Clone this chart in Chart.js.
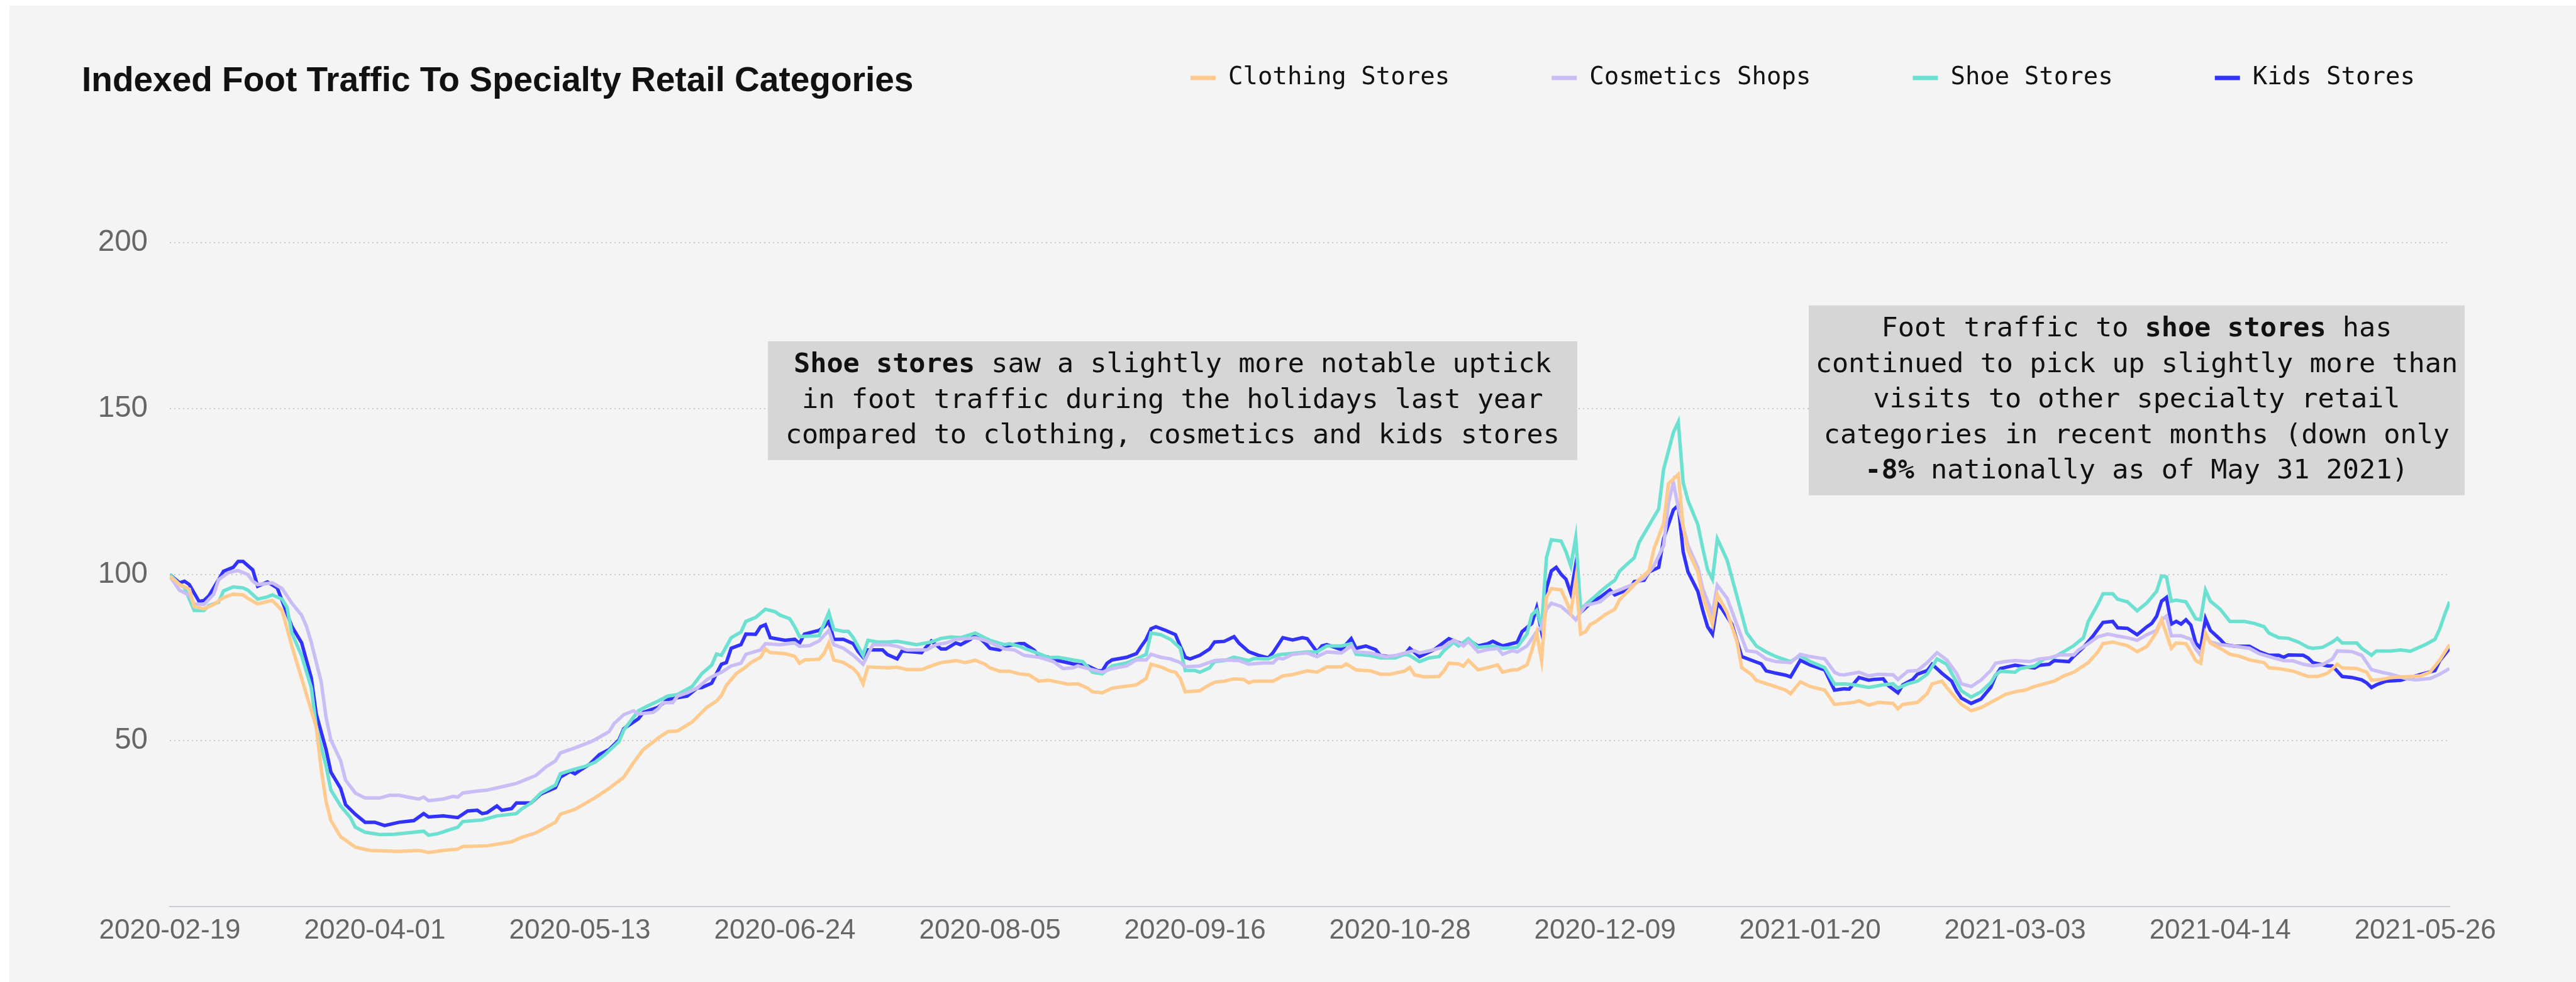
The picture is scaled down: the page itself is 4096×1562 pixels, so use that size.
<!DOCTYPE html>
<html>
<head>
<meta charset="utf-8">
<title>Indexed Foot Traffic To Specialty Retail Categories</title>
<script src="https://cdn.jsdelivr.net/npm/chart.js@4.4.1/dist/chart.umd.min.js"></script>
<style>
  html, body { margin: 0; padding: 0; background: #ffffff; }
  #wrap { position: absolute; left: 15px; top: 9px; width: 4081px; height: 1553px; }
</style>
</head>
<body>
<div id="wrap"><canvas id="traffic-chart"></canvas></div>
<script>
// Foot traffic index (2020-02-19 = 100), stored as [days since start, index]
const startDate = '2020-02-19';
const lastDay = 467; // 2021-05-31

const chartTitle = 'Indexed Foot Traffic To Specialty Retail Categories';
const seriesNames = ['Clothing Stores', 'Cosmetics Shops', 'Shoe Stores', 'Kids Stores'];
const tickLabels = ['2020-02-19', '2020-04-01', '2020-05-13', '2020-06-24', '2020-08-05', '2020-09-16',
  '2020-10-28', '2020-12-09', '2021-01-20', '2021-03-03', '2021-04-14', '2021-05-26'];

const clothingStores = [
  [0,99.5],[2,97],[4,95.6],[5,90.4],[7,89.7],[9,91],[11,93.1],[13,94.1],[15,93.9],[16,92.8],[18,91.2],[20,91.9],
  [21,92.2],[23,89.2],[25,78.5],[26,73.6],[28,63.9],[30,54.1],[31,41.5],[32,31.7],[33,25.9],[35,21],[38,17.9],
  [41,16.9],[47,16.6],[51,16.9],[53,16.3],[56,16.9],[59,17.3],[60,18.1],[65,18.3],[70,19.5],[72,20.8],[75,22.2],
  [79,25.4],[80,27.8],[83,29.3],[87,32.7],[90,35.6],[93,39],[95,43.4],[97,47.3],[100,50.7],[102,52.7],[104,52.9],
  [107,55.6],[110,60],[112,61.9],[113,63.6],[114,66.6],[116,70.1],[118,72.2],[119,73.5],[121,75.1],[122,77.6],
  [123,76.5],[126,76.2],[128,75.4],[129,73.3],[130,74.3],[133,74.5],[134,76.2],[135,79.4],[136,74.3],[138,73.5],
  [140,71.7],[141,70.1],[142,67.1],[143,72.2],[147,71.9],[149,72.1],[151,71.4],[154,71.4],[156,72.5],[158,73.5],
  [161,74.1],[163,73.5],[165,74.2],[167,73],[168,71.9],[170,70.9],[172,70.9],[174,70.1],[176,69.8],[178,67.9],
  [180,68.2],[182,67.6],[184,67],[186,67.1],[188,65.8],[189,64.7],[191,64.4],[193,65.8],[194,66],[197,66.6],
  [198,66.8],[200,68.7],[201,73],[203,72.2],[205,70.9],[206,70.6],[207,68.7],[208,64.7],[211,65],[212,66],
  [214,67.6],[216,67.9],[218,68.6],[220,68.4],[221,67.4],[222,67.9],[226,67.9],[228,69.5],[230,69.9],[233,71],
  [235,70.6],[237,72.2],[240,72.2],[241,73.1],[243,71.3],[246,71],[248,70],[250,70],[253,71],[254,72],[255,69.8],
  [257,69.2],[260,69.3],[261,71],[262,73.3],[264,73.1],[265,72.4],[266,74.2],[268,71.3],[270,72],[272,72.8],
  [273,70.6],[275,71.3],[276,71.3],[278,72.8],[279,77.1],[280,82.5],[281,74.2],[282,93.2],[283,95.8],[285,95.4],
  [286,92.2],[287,88.6],[288,98.6],[289,82.1],[290,82.8],[291,85],[292,85.7],[294,87.9],[296,89.6],[297,92.5],
  [299,95.4],[301,98.6],[303,101.1],[304,107.6],[306,115.5],[307,127.4],[309,130.2],[310,114.4],[311,107.2],
  [313,100.8],[314,93.6],[316,85],[317,94],[319,88.6],[321,80],[322,72],[324,69.9],[325,68.1],[328,66.7],
  [331,65.2],[332,64.1],[334,67.7],[336,66.3],[339,65.2],[341,60.9],[343,61.2],[345,61.5],[346,62],[348,60.7],
  [350,61.5],[353,61.2],[354,59.6],[355,60.9],[358,61.5],[360,64.2],[361,67.1],[363,67.9],[364,66],[366,62.5],
  [367,60.9],[369,59],[371,59.9],[374,62.3],[376,63.9],[378,64.7],[380,65.2],[382,66.3],[384,67.1],[386,67.9],
  [388,69.5],[390,70.6],[393,73.5],[395,76.8],[396,79.2],[398,79.7],[401,78.6],[403,76.8],[405,78.4],[406,80.5],
  [407,82.7],[408,86.4],[410,77.8],[411,79.4],[413,79.2],[414,76.8],[415,74.1],[416,73.3],[417,82.4],[418,79.4],
  [420,77.8],[422,76],[424,75.4],[426,74.3],[429,73.5],[430,71.9],[432,71.7],[435,70.9],[438,69.3],[440,69.3],
  [442,70.3],[444,73],[445,71.9],[448,71.7],[450,70.6],[451,68.2],[453,68.4],[455,69],[459,69.3],[461,69.5],
  [463,70.6],[465,74.3],[467,78.9]
];

const cosmeticsShops = [
  [0,99.5],[2,95.3],[4,93.8],[5,91.2],[7,91],[9,94.1],[10,98.5],[12,100.6],[14,101.2],[16,100],[17,98],[18,97],
  [21,97.5],[23,95.8],[25,91.4],[27,87.8],[28,84.4],[29,79.5],[30,73.6],[31,67.8],[32,57.1],[33,50.2],[35,43.9],
  [36,38.1],[38,34.2],[40,32.7],[43,32.7],[45,33.5],[47,33.5],[49,32.9],[51,32.4],[52,33],[53,31.9],[56,32.4],
  [58,33.2],[59,33],[60,34.2],[63,34.8],[65,35.1],[69,36.4],[71,37.1],[75,39.5],[77,42],[79,43.9],[80,46.3],
  [83,47.8],[86,49.5],[87,50.2],[90,52.7],[91,55.1],[93,57.8],[95,59],[96,58],[99,58.5],[100,59.5],[101,61.4],
  [103,61.4],[104,63.4],[106,64.4],[108,65.8],[110,68.3],[111,69.2],[113,70.6],[115,72.5],[117,73.3],[118,76],
  [121,77.3],[122,79.2],[125,78.9],[128,79.4],[129,78.4],[131,78.6],[133,80],[135,83.2],[136,78.9],[138,77.8],
  [140,75.7],[142,73],[144,78.9],[147,78.9],[149,78.4],[151,77.3],[155,77.3],[157,78.9],[159,79.4],[161,80.5],
  [164,80.8],[165,81],[167,80.2],[169,78.9],[171,77.6],[173,77.3],[175,75.7],[178,75.1],[181,73.8],[183,71.7],
  [185,71.9],[186,72.5],[188,71.7],[191,70.6],[193,71.7],[196,72.5],[198,74.3],[200,74.3],[201,76],[203,75.1],
  [205,74.6],[207,73.5],[208,72.2],[211,72.5],[214,74.1],[216,74.3],[219,74.1],[221,73],[224,73.4],[226,73.4],
  [227,74.9],[228,74.6],[230,76],[233,76.4],[235,75.3],[237,76.7],[240,76.4],[242,78.5],[243,76.7],[246,76.4],
  [249,75.3],[251,75.6],[253,76.4],[255,77.1],[256,76.4],[259,77.4],[261,78.2],[263,80.3],[265,78.5],[266,79.9],
  [268,76.7],[270,77.4],[272,77.8],[273,76],[275,77.1],[276,76.7],[278,78.5],[280,82.8],[281,84.3],[282,89.6],
  [283,91.4],[285,90.4],[287,87.9],[288,86.4],[289,88.6],[290,90.7],[293,91.8],[295,94.3],[297,95.4],[300,97.2],
  [302,99],[304,102.6],[306,108.7],[307,121.6],[308,127.7],[309,120.2],[311,108.7],[313,102.2],[314,95.8],
  [316,88.2],[317,96.8],[319,92.9],[321,85],[323,77.1],[325,76.7],[327,74.6],[329,73.8],[332,73.5],[334,76],
  [336,75.3],[339,74.6],[341,70.6],[342,69.9],[343,69.8],[346,70.6],[348,69.5],[350,70],[353,69.8],[354,68.4],
  [356,70.9],[358,71.1],[360,73.5],[362,76.5],[364,74.3],[366,70.3],[367,67.1],[369,66.3],[371,68.2],[373,71.1],
  [374,73.3],[376,73.8],[378,74.1],[381,73.8],[383,74.6],[385,74.9],[387,75.8],[390,75.8],[391,77.3],[393,79.2],
  [395,81.3],[397,82.1],[399,81.5],[401,81],[403,80.2],[405,81.9],[407,83.2],[408,86.4],[409,87.5],[410,81.6],
  [412,81.6],[414,80.5],[415,77.6],[416,75.7],[417,81.6],[418,79.7],[420,78.9],[423,78.4],[426,77.8],[428,76.2],
  [431,74.9],[433,74.1],[435,74],[437,73],[439,72.5],[441,72.9],[443,74.6],[444,77],[447,76.8],[449,75.7],
  [451,71.4],[453,70.6],[455,70],[458,68.7],[460,68.3],[463,68.7],[465,70],[467,71.7]
];

const shoeStores = [
  [0,100],[2,97],[3,96.1],[5,89.2],[7,89.2],[8,90.7],[10,91.7],[11,95.1],[13,96.3],[15,96],[16,95.3],[18,92.6],
  [20,93.3],[21,93.9],[23,92.6],[24,90.2],[25,82.4],[27,75.6],[29,65.8],[30,54.1],[32,42.4],[33,35.1],[35,30.3],
  [37,26.8],[38,23.9],[40,22.4],[43,21.7],[46,21.8],[50,22.4],[52,22.7],[53,21.5],[55,22],[57,23],[59,23.9],
  [60,25.6],[64,26.1],[67,27.3],[71,28],[72,29.3],[74,31.2],[76,34.2],[79,36.6],[80,40],[82,41],[85,42.2],
  [87,43.4],[89,45.6],[92,49.7],[93,53.2],[96,59],[98,60.5],[100,61.9],[102,63.4],[104,63.9],[107,66.3],
  [109,70.2],[111,72.7],[112,76.1],[113,75.7],[115,81],[117,82.7],[118,85.9],[120,87.1],[122,89.6],[124,88.8],
  [125,87.8],[127,86.7],[128,84.3],[129,81.3],[131,81.5],[133,81.6],[135,88.6],[136,83.5],[138,82.9],[139,82.9],
  [140,81],[142,75.7],[143,80.2],[145,79.7],[147,79.7],[149,79.9],[151,79.4],[153,78.9],[156,79.7],[158,80.8],
  [160,81.2],[162,81],[165,82.4],[168,80.2],[171,78.9],[172,79.2],[174,78.4],[175,77.8],[178,76.2],[180,75],
  [182,75.1],[185,74.3],[187,73.8],[189,70.6],[191,70.1],[193,72.5],[196,73.4],[198,74.6],[200,76],[201,82.4],
  [203,81.9],[205,80.5],[207,77.8],[208,71.1],[210,71.1],[211,70.6],[213,71.9],[214,73.8],[216,74.1],[218,75.1],
  [221,74.1],[222,74.7],[225,74.6],[227,75.8],[228,76],[233,76.7],[235,76.7],[237,78.5],[240,78.5],[242,79.2],
  [243,76],[246,75.6],[248,74.9],[251,74.9],[253,76],[254,75.6],[256,73.8],[258,74.9],[260,75.3],[261,77.1],
  [263,79.6],[264,78.5],[266,80.7],[268,78.1],[271,78.5],[273,77.8],[276,78.1],[278,82.1],[279,87.9],[280,89.3],
  [281,84.3],[282,105.1],[283,110.5],[285,110.1],[286,106.9],[287,102.6],[288,111.2],[289,89.6],[291,92.2],
  [294,96.1],[296,98.3],[297,101.1],[300,105.1],[301,109.8],[303,114.8],[305,119.8],[306,131.7],[308,142.8],
  [309,146],[310,127.7],[311,122.3],[313,115.1],[314,108],[315,101.5],[316,98.6],[317,110.8],[319,104.4],
  [321,93.6],[323,82.5],[325,78.5],[327,76.7],[329,75.3],[332,73.8],[334,75.6],[336,73.8],[339,72],[341,67],
  [343,67.1],[345,66.8],[348,66],[351,66.8],[353,67.1],[354,65.8],[356,67.1],[358,67.9],[360,70],[362,74.6],
  [364,73],[365,70.3],[367,65],[369,63.1],[371,64.7],[373,67.4],[374,69.8],[375,70.9],[378,70.6],[379,71.7],
  [382,72.5],[384,74.6],[386,75.1],[388,76.8],[390,78.6],[392,81],[393,85.9],[395,91.2],[396,94.2],[398,94.2],
  [399,92.6],[401,91.8],[403,89.1],[405,91.5],[407,95],[408,99.6],[409,99.3],[410,92],[411,92.3],[413,91.8],
  [415,86.7],[416,86.4],[417,95.3],[418,92],[420,89.6],[422,85.9],[425,85.9],[427,85.3],[429,84.3],[430,82.4],
  [432,81],[434,80.8],[436,79.7],[438,78.1],[439,77.8],[441,78.1],[443,79.7],[444,80.8],[445,79.4],[448,79.4],
  [449,77.8],[451,75.7],[452,77],[455,77],[457,77.3],[459,76.9],[460,77.6],[462,78.9],[464,80.5],[465,83.7],
  [466,88],[467,91.8]
];

const kidsStores = [
  [0,100],[2,97.5],[3,98],[4,97],[6,91.9],[7,92.2],[8,93.6],[10,98.5],[11,101],[13,102.2],[14,104],[15,104],
  [17,101.4],[18,96.5],[20,97.8],[22,96],[23,92.2],[25,84.4],[27,79.5],[29,68.8],[30,58],[32,47.3],[33,40.5],
  [35,35.6],[36,30.7],[38,27.8],[40,25.4],[42,25.4],[44,24.4],[47,25.4],[50,25.9],[52,28],[53,27],[56,27.3],
  [59,26.8],[61,28.8],[63,29],[64,28],[65,28.3],[67,30.3],[68,29],[70,29.5],[71,31.2],[74,31.2],[76,33.9],
  [79,35.8],[80,39],[82,40.7],[83,40],[84,41],[86,42.9],[88,45.8],[90,47.3],[92,50.2],[93,53.6],[96,56.6],
  [97,58.5],[100,60],[102,62.4],[106,63.4],[108,65.8],[109,66],[111,67.3],[112,70.2],[113,73],[114,73.5],
  [115,77.8],[117,78.9],[118,82.1],[120,82],[121,84.3],[122,84.9],[123,81],[126,80.2],[128,80.5],[129,79.3],
  [130,82.1],[133,83.2],[134,84.3],[135,85.9],[136,80.5],[138,80.5],[140,79.2],[141,76.8],[142,75.1],[143,77.3],
  [146,77.3],[147,75.9],[149,74.6],[150,77],[154,76.5],[156,80],[158,77.6],[159,77.6],[161,79.4],[162,78.9],
  [164,80.5],[165,82],[167,79.4],[168,77.8],[170,77.3],[171,78.4],[174,79.2],[175,79.2],[177,77.3],[178,75.7],
  [180,75.1],[182,74.1],[185,73.1],[188,72.5],[190,71.1],[191,71],[192,73.3],[193,74.3],[196,75.1],[198,76.2],
  [199,78.4],[200,80.5],[201,83.7],[202,84.3],[204,83.2],[206,81.9],[207,78.4],[208,75.1],[209,74.6],[211,75.7],
  [213,77.6],[214,79.7],[216,79.9],[218,81.3],[219,79.4],[221,76.8],[223,75.7],[225,74.9],[226,76.5],[228,81],
  [230,80.3],[232,81],[233,80.7],[235,76.7],[236,78.5],[237,78.9],[240,77.4],[242,80.7],[243,77.8],[245,78.5],
  [247,77.4],[248,75.6],[250,75.3],[253,76],[254,77.8],[256,75.3],[259,77.4],[260,78.5],[262,80.7],[265,78.9],
  [266,80.3],[268,78.5],[270,79.2],[271,79.9],[273,78.5],[276,79.6],[277,82.8],[279,85.3],[280,90],[281,82.8],
  [282,95.8],[283,101.1],[284,102.2],[285,100.1],[286,98.6],[287,94.3],[288,103],[289,88.6],[291,91.4],
  [293,93.2],[295,95.4],[296,93.9],[299,95.7],[300,97.9],[302,98.3],[303,100.8],[305,102.2],[306,110.8],
  [308,119.5],[309,120.9],[310,106.9],[311,100.8],[313,95],[314,89.3],[315,84.3],[316,82.1],[317,91.4],
  [318,89.6],[320,85],[322,75.3],[324,74.2],[326,73.1],[327,71],[329,70.3],[331,69.7],[332,69.2],[334,74.2],
  [336,72.8],[339,71.3],[341,65.2],[343,65.6],[344,65.5],[346,69],[348,68.2],[349,68.4],[351,68.6],[352,66.6],
  [354,64.4],[355,66.8],[357,68.4],[358,70],[360,71.1],[361,73],[363,70.3],[365,67.9],[366,65],[367,62.8],
  [369,61.2],[371,62.5],[373,66],[374,69.5],[375,71.7],[378,72.7],[380,72.2],[382,71.9],[383,72.7],[385,73],
  [386,74.1],[389,73.8],[390,75.4],[392,78.1],[394,81.6],[396,85.6],[398,85.9],[399,84],[401,83.8],[403,81.9],
  [405,84.3],[406,85.3],[407,87.5],[408,92],[409,93.1],[410,85.1],[411,85.9],[412,85.1],[413,86.4],[414,84.8],
  [415,79.4],[416,77.8],[417,86.7],[418,83.2],[420,80.5],[421,78.9],[423,78.4],[426,78.4],[428,76.8],[430,75.7],
  [432,75.7],[433,75.1],[434,75.8],[437,75.7],[438,74.9],[439,73.5],[442,72.5],[443,72.5],[445,69.3],[447,69],
  [449,68.3],[450,67.4],[451,66],[452,66.8],[454,67.9],[457,68.2],[460,69.5],[462,70.3],[464,71.1],[465,74.1],
  [467,77.8]
];

// Callout texts; **...** marks the bold part
const holidayNote = [
  '**Shoe stores** saw a slightly more notable uptick',
  'in foot traffic during the holidays last year',
  'compared to clothing, cosmetics and kids stores'
];
const recentNote = [
  'Foot traffic to **shoe stores** has',
  'continued to pick up slightly more than',
  'visits to other specialty retail',
  'categories in recent months (down only',
  '**-8%** nationally as of May 31 2021)'
];

const tickDays = tickLabels.map(d => Math.round((Date.parse(d) - Date.parse(startDate)) / 864e5));

const MONO = '"DejaVu Sans Mono", monospace';
const SANS = '"Liberation Sans", Arial, sans-serif';

// grey page behind the plot
const backdrop = {
  id: 'backdrop',
  beforeDraw(chart) {
    const ctx = chart.ctx;
    ctx.save();
    ctx.fillStyle = '#f4f4f4';
    ctx.fillRect(0, 0, chart.width, chart.height);
    ctx.restore();
  }
};

// title on the left, series key on the right, same row
const header = {
  id: 'header',
  afterDraw(chart) {
    const ctx = chart.ctx;
    ctx.save();
    ctx.fillStyle = '#111111';
    ctx.textBaseline = 'alphabetic';
    ctx.font = 'bold 55px ' + SANS;
    ctx.fillText(chartTitle, 115, 135.5);

    ctx.font = '39px ' + MONO;
    ctx.textBaseline = 'middle';
    let x = 1878;
    chart.data.datasets.forEach(ds => {
      ctx.fillStyle = ds.borderColor;
      ctx.fillRect(x, 111.5, 40, 7);
      ctx.fillStyle = '#111111';
      ctx.fillText(ds.label, x + 60, 114.5);
      x += 60 + ctx.measureText(ds.label).width + 162;
    });
    ctx.restore();
  }
};

// grey callout boxes anchored at a (day, index) point
const callouts = {
  id: 'callouts',
  afterDraw(chart, args, opts) {
    const {ctx, scales: {x, y}} = chart;
    ctx.save();
    opts.items.forEach(item => {
      const cx = x.getPixelForValue(item.day);
      const cy = y.getPixelForValue(item.value);
      ctx.fillStyle = '#d6d6d6';
      ctx.fillRect(cx - item.width / 2, cy - item.height / 2, item.width, item.height);
      ctx.fillStyle = '#111111';
      ctx.textBaseline = 'middle';
      item.lines.forEach((line, i) => {
        const ly = cy + (i - (item.lines.length - 1) / 2) * opts.lineHeight;
        const parts = line.split('**');
        const fontFor = k => (k % 2 ? 'bold ' : '') + opts.fontSize + 'px ' + MONO;
        let total = 0;
        parts.forEach((p, k) => { ctx.font = fontFor(k); total += ctx.measureText(p).width; });
        let tx = cx - total / 2;
        parts.forEach((p, k) => {
          ctx.font = fontFor(k);
          ctx.fillText(p, tx, ly);
          tx += ctx.measureText(p).width;
        });
      });
    });
    ctx.restore();
  }
};

const seriesData = [clothingStores, cosmeticsShops, shoeStores, kidsStores];
const seriesColors = ['#ffca8e', '#cabdf5', '#6ce0d1', '#3232ff'];

new Chart(document.getElementById('traffic-chart'), {
  type: 'line',
  data: {
    datasets: seriesNames.map((name, i) => ({
      label: name,
      data: seriesData[i],
      borderColor: seriesColors[i],
      backgroundColor: seriesColors[i],
      borderWidth: 5.5,
      pointRadius: 0,
      tension: 0,
      fill: false
    }))
  },
  options: {
    responsive: true,
    maintainAspectRatio: false,
    animation: false,
    devicePixelRatio: 1,
    layout: { padding: { top: 377, right: 201, bottom: 0, left: 0 } },
    scales: {
      x: {
        type: 'linear',
        min: 0,
        max: lastDay,
        grid: { display: false, drawTicks: false },
        border: { display: true, color: '#c8cdd3', width: 2 },
        ticks: {
          autoSkip: false,
          maxRotation: 0,
          padding: 12,
          color: '#666666',
          font: { family: SANS, size: 44 },
          callback: (v, i) => tickLabels[i]
        },
        afterBuildTicks: scale => { scale.ticks = tickDays.map(v => ({ value: v })); },
        afterFit: scale => { scale.height = 120; }
      },
      y: {
        min: 0,
        max: 200,
        grid: {
          drawTicks: false,
          lineWidth: 2,
          color: c => c.tick && c.tick.value === 0 ? 'rgba(0,0,0,0)' : '#c6c6c6'
        },
        border: { display: false, dash: [2, 5] },
        ticks: {
          stepSize: 50,
          padding: 35,
          color: '#666666',
          font: { family: SANS, size: 47.5 },
          callback: v => (v === 0 ? '' : v)
        },
        afterFit: scale => { scale.width = 255; }
      }
    },
    plugins: {
      legend: { display: false },
      title: { display: false },
      tooltip: { enabled: false },
      callouts: {
        fontSize: 43.5,
        lineHeight: 56.5,
        items: [
          { day: 205.4, value: 152.4, width: 1287, height: 189, lines: holidayNote },
          { day: 402.9, value: 152.5, width: 1043, height: 302, lines: recentNote }
        ]
      }
    }
  },
  plugins: [backdrop, header, callouts]
});
</script>
</body>
</html>
